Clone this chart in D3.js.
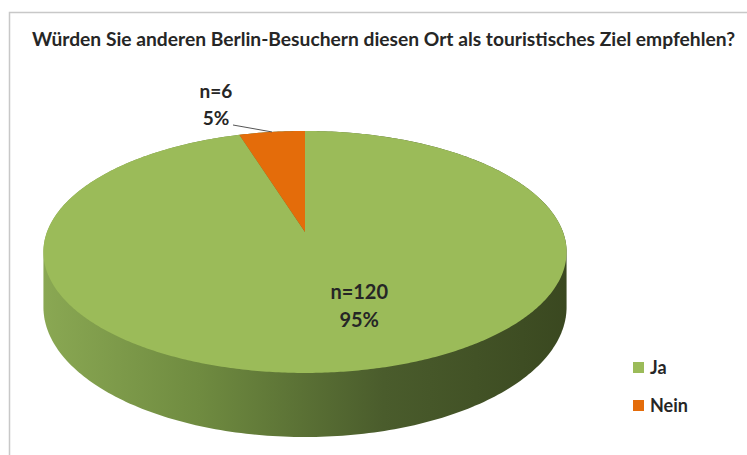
<!DOCTYPE html>
<html>
<head>
<meta charset="utf-8">
<script src="https://cdn.jsdelivr.net/npm/d3@7"></script>
<style>
  body { margin: 0; background: #fff; }
  svg text { font-family: Lato, "Open Sans", sans-serif; font-weight: bold; fill: #262626; }
</style>
</head>
<body>
<div id="chart"></div>
<script>
// data
var categories = ["Ja", "Nein"];
var counts = [120, 6];
var percents = ["95%", "5%"];
var colors = ["#9bbb59", "#e46c0a"];
var title = "Würden Sie anderen Berlin-Besuchern diesen Ort als touristisches Ziel empfehlen?";

var W = 747, H = 455;

var svg = d3.select("#chart").append("svg")
  .attr("width", W).attr("height", H);

// chart frame
svg.append("rect")
  .attr("x", 9.5).attr("y", 12.5)
  .attr("width", 760).attr("height", 460)
  .attr("fill", "none").attr("stroke", "#c8c8c8").attr("stroke-width", 1.5);

svg.append("text")
  .attr("x", 32).attr("y", 46)
  .attr("textLength", 703).attr("lengthAdjust", "spacingAndGlyphs")
  .style("font-size", "18px")
  .text(title);

// simple perspective for the tilted pie
var cx = 305, cy = 232, sx = 258, sy = 117.7, persp = 0.165, depth = 53.5;
function project(a, r) {
  var u = r * Math.sin(a), v = r * Math.cos(a);
  var w = 1 + persp * v;
  return [cx + sx * u / w, cy - sy * v / w, w];
}

var pie = d3.pie().sort(null).value(function(d) { return d; });
var arcs = pie(counts);

// side of the cylinder: hull of top and bottom rims
var rim = [];
d3.range(0, 360, 1).forEach(function(deg) {
  var p = project(deg * Math.PI / 180, 1);
  rim.push([p[0], p[1]]);
  rim.push([p[0], p[1] + depth / p[2]]);
});
var hull = d3.polygonHull(rim);

var grad = svg.append("defs").append("linearGradient")
  .attr("id", "side").attr("gradientUnits", "userSpaceOnUse")
  .attr("x1", cx - sx * 1.02).attr("x2", cx + sx * 1.02)
  .attr("y1", 0).attr("y2", 0);
[[0, "#8aa853"], [0.3, "#6f8b40"], [0.65, "#4a5c2c"], [1, "#3a4820"]].forEach(function(s) {
  grad.append("stop").attr("offset", s[0]).attr("stop-color", s[1]);
});

svg.append("path")
  .attr("d", "M" + hull.join("L") + "Z")
  .attr("fill", "url(#side)");

// top face slices
var line = d3.line();
svg.selectAll(".slice").data(arcs).enter().append("path")
  .attr("class", "slice")
  .attr("fill", function(d, i) { return colors[i]; })
  .attr("d", function(d) {
    var pts = [[cx, cy]];
    var n = Math.max(4, Math.ceil((d.endAngle - d.startAngle) / 0.01));
    for (var k = 0; k <= n; k++) {
      var p = project(d.startAngle + (d.endAngle - d.startAngle) * k / n, 1);
      pts.push([p[0], p[1]]);
    }
    return line(pts) + "Z";
  });

// labels
var jaMid = (arcs[0].startAngle + arcs[0].endAngle) / 2;
var jaPos = project(jaMid, 0.55);
var jaLbl = svg.append("text").attr("text-anchor", "middle").style("font-size", "20px");
jaLbl.append("tspan").attr("x", jaPos[0] + 31).attr("y", jaPos[1] - 3).text("n=" + counts[0]);
jaLbl.append("tspan").attr("x", jaPos[0] + 31).attr("y", jaPos[1] + 25).text(percents[0]);

var neinMid = (arcs[1].startAngle + arcs[1].endAngle) / 2;
var edge = project(neinMid, 1);
svg.append("line")
  .attr("x1", 233).attr("y1", 125)
  .attr("x2", edge[0]).attr("y2", edge[1])
  .attr("stroke", "#555").attr("stroke-width", 1);
var neinLbl = svg.append("text").attr("text-anchor", "middle").style("font-size", "19px");
neinLbl.append("tspan").attr("x", 216).attr("y", 98).text("n=" + counts[1]);
neinLbl.append("tspan").attr("x", 216).attr("y", 125).text(percents[1]);

// legend
var legend = svg.selectAll(".legend").data(categories).enter().append("g")
  .attr("class", "legend")
  .attr("transform", function(d, i) { return "translate(633," + (362 + i * 38) + ")"; });
legend.append("rect").attr("width", 11).attr("height", 11)
  .attr("fill", function(d, i) { return colors[i]; });
legend.append("text").attr("x", 17).attr("y", 12)
  .style("font-size", "18px")
  .text(function(d) { return d; });
</script>
</body>
</html>
